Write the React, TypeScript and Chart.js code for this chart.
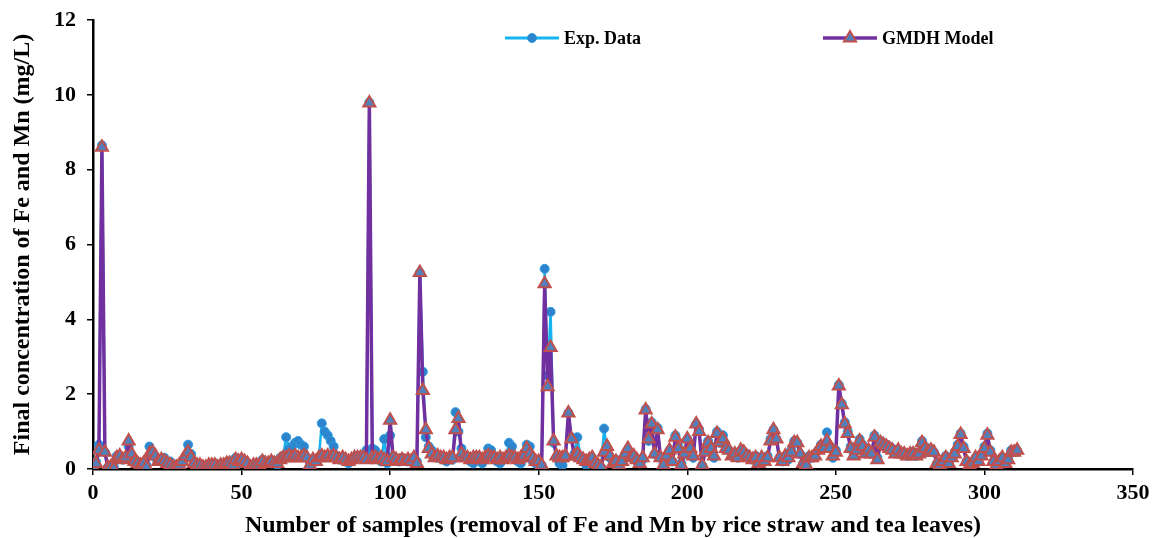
import React, { useEffect, useRef } from "react";
import { Chart, registerables } from "chart.js";

Chart.register(...registerables);

const expData: number[] = [
  0.15, 0.2, 0.65, 8.65, 0.45, 0.05, 0.1, 0.05, 0.35, 0.3,
  0.25, 0.3, 0.6, 0.35, 0.15, 0.2, 0.1, 0.15, 0.1, 0.6,
  0.45, 0.3, 0.25, 0.2, 0.3, 0.15, 0.2, 0.1, 0.05, 0.1,
  0.15, 0.3, 0.65, 0.4, 0.2, 0.15, 0.1, 0.05, 0.1, 0.05,
  0.1, 0.15, 0.1, 0.05, 0.15, 0.1, 0.2, 0.1, 0.3, 0.15,
  0.25, 0.2, 0.1, 0.05, 0.1, 0.15, 0.1, 0.25, 0.15, 0.2,
  0.15, 0.2, 0.1, 0.3, 0.35, 0.85, 0.55, 0.6, 0.7, 0.75,
  0.65, 0.6, 0.3, 0.15, 0.25, 0.2, 0.3, 1.22, 1.0, 0.9,
  0.75, 0.6, 0.35, 0.25, 0.3, 0.2, 0.15, 0.25, 0.3, 0.35,
  0.3, 0.35, 0.5, 9.8, 0.55, 0.5, 0.3, 0.2, 0.8, 0.15,
  0.9, 0.35, 0.25, 0.2, 0.3, 0.25, 0.2, 0.25, 0.3, 0.2,
  5.25, 2.6, 0.85, 0.6, 0.5, 0.35, 0.3, 0.3, 0.25, 0.2,
  0.3, 0.25, 1.52, 1.0, 0.55, 0.35, 0.3, 0.2, 0.15, 0.35,
  0.25, 0.15, 0.3, 0.55, 0.5, 0.3, 0.2, 0.15, 0.25, 0.3,
  0.7, 0.6, 0.3, 0.2, 0.15, 0.3, 0.65, 0.6, 0.2, 0.15,
  0.15, 0.1, 5.35, 2.5, 4.2, 0.7, 0.3, 0.15, 0.1, 0.3,
  1.5, 0.85, 0.4, 0.85, 0.35, 0.25, 0.1, 0.2, 0.3, 0.15,
  0.1, 0.05, 1.08, 0.5, 0.3, 0.15, 0.25, 0.1, 0.2, 0.3,
  0.5, 0.35, 0.3, 0.2, 0.15, 0.25, 1.6, 0.75, 1.25, 0.4,
  1.1, 0.3, 0.15, 0.35, 0.5, 0.2, 0.9, 0.6, 0.15, 0.4,
  0.8, 0.6, 0.3, 1.2, 1.05, 0.1, 0.5, 0.75, 0.6, 0.3,
  1.0, 0.7, 0.9, 0.6, 0.5, 0.35, 0.4, 0.3, 0.5, 0.45,
  0.4, 0.3, 0.25, 0.35, 0.15, 0.3, 0.2, 0.35, 0.8, 1.05,
  0.8, 0.3, 0.2, 0.35, 0.25, 0.5, 0.75, 0.7, 0.4, 0.15,
  0.1, 0.35, 0.3, 0.4, 0.5, 0.65, 0.55, 0.98, 0.6, 0.3,
  0.5, 2.25, 1.75, 1.25, 1.0, 0.6, 0.4, 0.5, 0.8, 0.65,
  0.45, 0.5, 0.4, 0.9, 0.3, 0.75, 0.7, 0.65, 0.6, 0.55,
  0.45, 0.5, 0.45, 0.4, 0.35, 0.4, 0.45, 0.35, 0.45, 0.75,
  0.6, 0.45, 0.5, 0.45, 0.15, 0.1, 0.2, 0.35, 0.15, 0.3,
  0.45, 0.65, 0.95, 0.6, 0.2, 0.1, 0.15, 0.3, 0.2, 0.4,
  0.6, 0.95, 0.5, 0.2, 0.1, 0.25, 0.3, 0.15, 0.3, 0.5, 0.45, 0.5,
];

const modelData: number[] = [
  0.05, 0.15, 0.5, 8.6, 0.45, 0.05, 0.05, 0.0, 0.3, 0.35,
  0.25, 0.3, 0.75, 0.4, 0.2, 0.15, 0.1, 0.15, 0.05, 0.4,
  0.45, 0.35, 0.2, 0.25, 0.2, 0.15, 0.1, 0.05, 0.05, 0.1,
  0.2, 0.35, 0.45, 0.3, 0.15, 0.1, 0.1, 0.05, 0.05, 0.1,
  0.1, 0.1, 0.05, 0.1, 0.1, 0.15, 0.15, 0.1, 0.25, 0.2,
  0.25, 0.2, 0.15, 0.05, 0.1, 0.1, 0.1, 0.2, 0.15, 0.15,
  0.2, 0.15, 0.15, 0.25, 0.3, 0.3, 0.35, 0.3, 0.35, 0.3,
  0.3, 0.35, 0.3, 0.1, 0.25, 0.2, 0.3, 0.35, 0.3, 0.35,
  0.3, 0.35, 0.3, 0.25, 0.3, 0.25, 0.2, 0.25, 0.3, 0.3,
  0.3, 0.3, 0.25, 9.78, 0.3, 0.3, 0.25, 0.3, 0.25, 0.2,
  1.3, 0.3, 0.25, 0.2, 0.25, 0.2, 0.25, 0.2, 0.3, 0.15,
  5.25, 2.1, 1.05, 0.55, 0.4, 0.3, 0.35, 0.3, 0.3, 0.25,
  0.3, 0.3, 1.05, 1.35, 0.4, 0.3, 0.3, 0.25, 0.3, 0.3,
  0.3, 0.25, 0.3, 0.35, 0.3, 0.3, 0.25, 0.3, 0.25, 0.3,
  0.35, 0.3, 0.3, 0.25, 0.3, 0.35, 0.55, 0.4, 0.3, 0.2,
  0.2, 0.1, 4.95, 2.2, 3.25, 0.75, 0.35, 0.3, 0.3, 0.35,
  1.5, 0.8, 0.35, 0.4, 0.3, 0.25, 0.2, 0.25, 0.3, 0.15,
  0.1, 0.05, 0.45, 0.6, 0.35, 0.15, 0.2, 0.1, 0.2, 0.4,
  0.55, 0.3, 0.35, 0.25, 0.15, 0.3, 1.58, 0.8, 1.2, 0.4,
  1.05, 0.3, 0.1, 0.35, 0.5, 0.2, 0.85, 0.55, 0.1, 0.4,
  0.8, 0.55, 0.35, 1.2, 1.0, 0.1, 0.45, 0.7, 0.55, 0.35,
  0.95, 0.7, 0.8, 0.55, 0.5, 0.35, 0.4, 0.3, 0.5, 0.45,
  0.35, 0.3, 0.25, 0.3, 0.15, 0.3, 0.2, 0.3, 0.75, 1.05,
  0.8, 0.3, 0.2, 0.35, 0.3, 0.45, 0.7, 0.7, 0.4, 0.15,
  0.1, 0.3, 0.3, 0.35, 0.5, 0.6, 0.55, 0.75, 0.55, 0.35,
  0.45, 2.22, 1.72, 1.2, 0.95, 0.55, 0.35, 0.5, 0.75, 0.6,
  0.4, 0.5, 0.4, 0.85, 0.25, 0.7, 0.65, 0.6, 0.55, 0.5,
  0.4, 0.5, 0.4, 0.4, 0.35, 0.4, 0.4, 0.35, 0.4, 0.7,
  0.55, 0.45, 0.5, 0.45, 0.15, 0.1, 0.2, 0.3, 0.15, 0.3,
  0.4, 0.6, 0.92, 0.55, 0.2, 0.1, 0.15, 0.3, 0.2, 0.35,
  0.55, 0.9, 0.45, 0.2, 0.1, 0.2, 0.3, 0.15, 0.25, 0.45, 0.45, 0.5,
];

const seriesNames: string[] = ["Exp. Data", "GMDH Model"];
const xTitle = "Number of samples (removal of Fe and Mn by rice straw and tea leaves)";
const yTitle = "Final concentration of Fe and Mn (mg/L)";

const EXP_LINE = "#14B4F0";
const EXP_FILL = "#2E84CC";
const EXP_BORDER = "#2A9BE0";
const MOD_LINE = "#7030A0";
const MOD_FILL = "#4F81BD";
const MOD_BORDER = "#C0504D";
const FONT = "'Liberation Serif', 'Times New Roman', serif";

const legendPlugin = {
  id: "customLegend",
  afterDraw(chart: any) {
    const ctx = chart.ctx as CanvasRenderingContext2D;
    const y = 38;
    const items = [
      { x: 505, name: seriesNames[0], line: EXP_LINE, style: "circle" },
      { x: 823, name: seriesNames[1], line: MOD_LINE, style: "triangle" },
    ];
    ctx.save();
    for (const it of items) {
      ctx.strokeStyle = it.line;
      ctx.lineWidth = it.style === "circle" ? 3 : 3.5;
      ctx.beginPath();
      ctx.moveTo(it.x, y);
      ctx.lineTo(it.x + 54, y);
      ctx.stroke();
      const cx = it.x + 27;
      if (it.style === "circle") {
        ctx.fillStyle = EXP_FILL;
        ctx.strokeStyle = EXP_BORDER;
        ctx.lineWidth = 1;
        ctx.beginPath();
        ctx.arc(cx, y, 4.5, 0, Math.PI * 2);
        ctx.fill();
        ctx.stroke();
      } else {
        const r = 7;
        ctx.fillStyle = MOD_FILL;
        ctx.strokeStyle = MOD_BORDER;
        ctx.lineWidth = 2;
        const s = Math.sqrt(3) * r;
        const h = (s * Math.sqrt(3)) / 2;
        ctx.beginPath();
        ctx.moveTo(cx, y - (h * 2) / 3);
        ctx.lineTo(cx + s / 2, y + h / 3);
        ctx.lineTo(cx - s / 2, y + h / 3);
        ctx.closePath();
        ctx.fill();
        ctx.stroke();
      }
      ctx.fillStyle = "#000";
      ctx.font = `bold 18px ${FONT}`;
      ctx.textBaseline = "middle";
      ctx.textAlign = "left";
      ctx.fillText(it.name, it.x + 59, y + 1);
    }
    ctx.restore();
  },
};

export default function App() {
  const ref = useRef<HTMLCanvasElement | null>(null);
  useEffect(() => {
    document.body.style.margin = "0";
    if (!ref.current) return;
    const chart = new Chart(ref.current, {
      type: "line",
      data: {
        labels: expData.map((_, i) => i),
        datasets: [
          {
            label: seriesNames[0],
            data: expData.map((v, i) => ({ x: i, y: v })),
            borderColor: EXP_LINE,
            borderWidth: 2.5,
            borderJoinStyle: "round",
            backgroundColor: EXP_FILL,
            pointBackgroundColor: EXP_FILL,
            pointBorderColor: EXP_BORDER,
            pointBorderWidth: 1,
            pointStyle: "circle",
            pointRadius: 4.5,
            tension: 0,
            order: 2,
          },
          {
            label: seriesNames[1],
            data: modelData.map((v, i) => ({ x: i, y: v })),
            borderColor: MOD_LINE,
            borderWidth: 3.5,
            borderJoinStyle: "round",
            backgroundColor: MOD_FILL,
            pointBackgroundColor: MOD_FILL,
            pointBorderColor: MOD_BORDER,
            pointBorderWidth: 2,
            pointStyle: "triangle",
            pointRadius: 7,
            tension: 0,
            order: 1,
          },
        ],
      },
      options: {
        animation: false,
        responsive: false,
        devicePixelRatio: 1,
        layout: { padding: { left: 0, right: 22, top: 20, bottom: 0 } },
        plugins: { legend: { display: false }, tooltip: { enabled: false } },
        scales: {
          x: {
            type: "linear",
            min: 0,
            max: 350,
            ticks: { stepSize: 50, color: "#000", font: { family: FONT, size: 22, weight: "bold" }, padding: 5 },
            grid: { display: true, drawOnChartArea: false, color: "#000", tickLength: 6, lineWidth: 1.5 },
            border: { color: "#000", width: 2.5 },
            title: { display: true, text: xTitle, color: "#000", font: { family: FONT, size: 24, weight: "bold", lineHeight: 1.0 }, padding: { top: 0, bottom: 0 } },
            afterFit(scale: any) { scale.height = 69; },
          },
          y: {
            min: 0,
            max: 12,
            ticks: { stepSize: 2, color: "#000", font: { family: FONT, size: 22, weight: "bold", lineHeight: 0.6 }, padding: 11 },
            grid: { display: true, drawOnChartArea: false, color: "#000", tickLength: 6, lineWidth: 1.5 },
            border: { color: "#000", width: 2.5 },
            title: { display: true, text: yTitle, color: "#000", font: { family: FONT, size: 24, weight: "bold" }, padding: { top: 8, bottom: 0 } },
            afterFit(scale: any) { scale.width = 93; },
          },
        },
      } as any,
      plugins: [legendPlugin],
    });
    return () => chart.destroy();
  }, []);
  return <canvas ref={ref} width={1155} height={538} style={{ display: "block" }} />;
}
